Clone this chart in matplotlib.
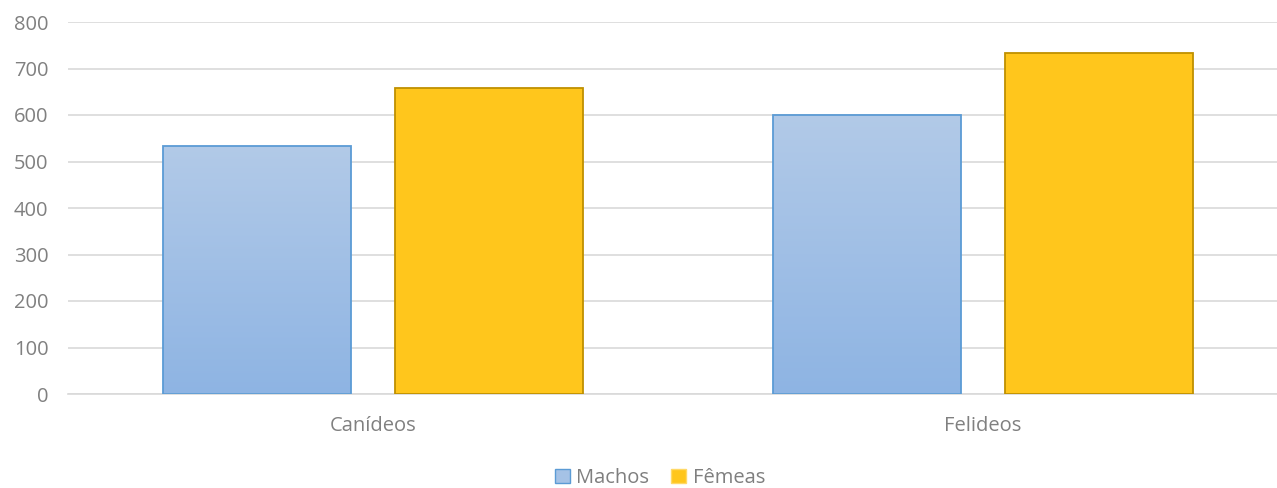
import matplotlib
matplotlib.use("Agg")
import matplotlib.pyplot as plt
import numpy as np
from matplotlib.patches import Patch

categories = ["Canídeos", "Felideos"]
series_names = ["Machos", "Fêmeas"]
machos = [534, 601]
femeas = [657, 733]
yticks = [0, 100, 200, 300, 400, 500, 600, 700, 800]

plt.rcParams['font.family'] = ['Open Sans', 'DejaVu Sans']
W, H = 1277, 488
fig = plt.figure(figsize=(W/100, H/100), dpi=100)
ax = fig.add_axes([68/W, 1-394/H, (1288-68)/W, (394-22)/H])

x = np.arange(len(categories))
bw = 0.308
off = 0.19
grid_col = "#D9D9D9"
txt_col = "#808080"

grad = np.linspace(0, 1, 256).reshape(-1, 1)
top_c = np.array([0xB2, 0xCA, 0xE8]) / 255
bot_c = np.array([0x8E, 0xB4, 0xE3]) / 255
img = (bot_c[None, None, :] * (1 - grad[:, :, None]) + top_c[None, None, :] * grad[:, :, None])

bars_m = ax.bar(x - off, machos, bw, color="none", edgecolor="#5B9BD5", linewidth=1.3, zorder=3)
for b in bars_m:
    bx, by = b.get_x(), b.get_y()
    bwid, bh = b.get_width(), b.get_height()
    im = ax.imshow(img, extent=[bx, bx + bwid, by, by + bh], origin="lower", aspect="auto", zorder=2)
    im.set_clip_path(b)
bars_f = ax.bar(x + off, femeas, bw, color="#FFC61C", edgecolor="#BF9000", linewidth=1.3, zorder=3)

ax.set_xlim(-0.5, 1.5)
ax.set_ylim(0, 800)
ax.set_yticks(yticks)
ax.set_yticklabels([str(v) for v in yticks])
ax.set_xticks(x)
ax.set_xticklabels(categories)
ax.tick_params(axis='both', length=0, colors=txt_col, labelsize=14.5)
ax.tick_params(axis='y', pad=14)
ax.tick_params(axis='x', pad=16)
ax.yaxis.grid(True, color=grid_col, linewidth=1.2, zorder=0)
ax.set_axisbelow(True)
for s in ["top", "right", "left"]:
    ax.spines[s].set_visible(False)
ax.spines["bottom"].set_color(grid_col)
ax.spines["bottom"].set_linewidth(1.2)

handles = [Patch(facecolor="#A5C2E6", edgecolor="#5B9BD5", label=series_names[0]),
           Patch(facecolor="#FFC61C", edgecolor="#FFD966", label=series_names[1])]
leg = fig.legend(handles=handles, loc="center", bbox_to_anchor=(660/W, 1-478/H), ncol=2,
                 frameon=False, fontsize=14.5, handlelength=0.75, handleheight=0.75,
                 handletextpad=0.3, columnspacing=1.1)
for t in leg.get_texts():
    t.set_color("#7F7F7F")

fig.savefig("out.png", dpi=100)
